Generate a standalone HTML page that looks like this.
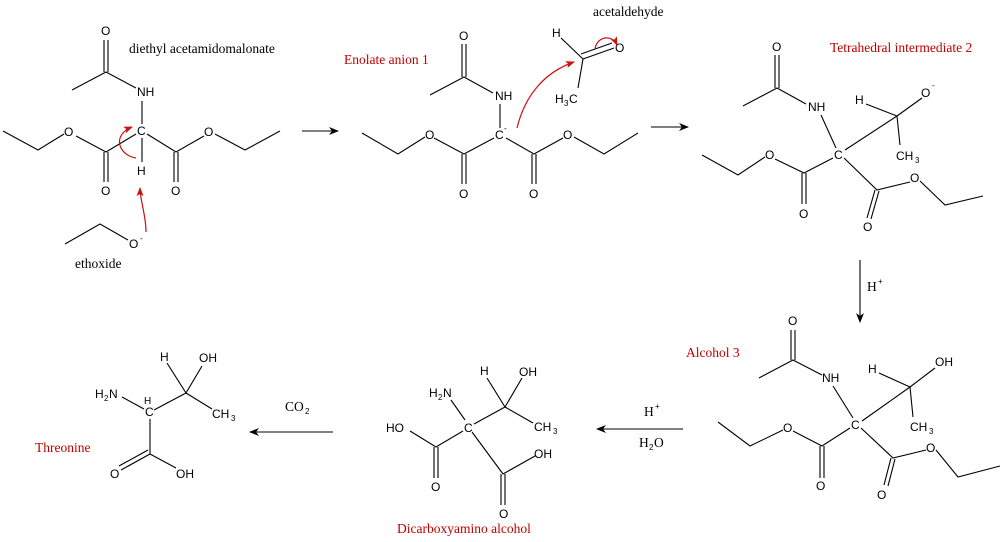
<!DOCTYPE html>
<html><head><style>
html,body{margin:0;padding:0;background:#fff;}
svg{display:block}
.a{font-family:"Liberation Sans",sans-serif;font-size:12px;fill:#000}
.s{font-family:"Liberation Sans",sans-serif;font-size:8px;fill:#000}
.l{font-family:"Liberation Serif",serif;font-size:13.5px;fill:#000}
.r{font-family:"Liberation Serif",serif;font-size:13.5px;fill:#c00000}
line,polyline,path{stroke:#000;stroke-width:1.1;fill:none}
.red{stroke:#d01010;stroke-width:1.2}
</style></head><body>
<svg width="1003" height="542" viewBox="0 0 1003 542" xmlns="http://www.w3.org/2000/svg">
<defs>
<marker id="ah" markerWidth="10" markerHeight="8" refX="9" refY="4" orient="auto" markerUnits="userSpaceOnUse"><path d="M0,0 L10,4 L0,8 L3,4 Z" style="fill:#000;stroke:none"/></marker>
<marker id="rh" markerWidth="9" markerHeight="7" refX="8" refY="3.5" orient="auto" markerUnits="userSpaceOnUse"><path d="M0,0 L9,3.5 L0,7 L2,3.5 Z" style="fill:#d01010;stroke:none"/></marker>
</defs>

<!-- Molecule 1 -->
<text class="a" x="101" y="35">O</text>
<line x1="104" y1="40" x2="104" y2="72"/><line x1="108" y1="40" x2="108" y2="72"/>
<polyline points="72,90 106,72 136,88"/>
<text class="a" x="137" y="96">NH</text>
<line x1="142" y1="101" x2="142" y2="124"/>
<text class="a" x="137" y="135">C</text>
<line x1="142" y1="138" x2="142" y2="162"/>
<text class="a" x="137" y="175">H</text>
<polyline points="136,134 106,152 76,136"/>
<text class="a" x="64" y="136">O</text>
<polyline points="64,134 38,150 3,131"/>
<line x1="104" y1="152" x2="104" y2="182"/><line x1="108" y1="152" x2="108" y2="182"/>
<text class="a" x="101" y="195">O</text>
<polyline points="147,134 176,152 204,136"/>
<text class="a" x="204" y="136">O</text>
<polyline points="215,134 245,150 280,131"/>
<line x1="174" y1="152" x2="174" y2="182"/><line x1="178" y1="152" x2="178" y2="182"/>
<text class="a" x="171" y="195">O</text>
<text class="l" x="129" y="53">diethyl acetamidomalonate</text>
<polyline points="65,244 100,224 128,240"/>
<text class="a" x="129" y="248">O</text><text class="s" x="140" y="241">-</text>
<text class="l" x="75" y="268">ethoxide</text>
<path class="red" d="M136,158 C118,155 112,135 132,127" marker-end="url(#rh)"/>
<path class="red" d="M146,232 C146,215 140,200 140,188" marker-end="url(#rh)"/>

<line x1="302" y1="131" x2="338" y2="131" marker-end="url(#ah)"/>

<!-- Molecule 2 -->
<text class="r" x="344" y="64">Enolate anion 1</text>
<text class="a" x="459" y="40">O</text>
<line x1="462" y1="44" x2="462" y2="77"/><line x1="466" y1="44" x2="466" y2="77"/>
<polyline points="430,95 464,77 493,93"/>
<text class="a" x="495" y="100">NH</text>
<line x1="500" y1="104" x2="500" y2="128"/>
<text class="a" x="495" y="139">C</text><text class="s" x="504" y="131">-</text>
<polyline points="494,138 464,154 434,138"/>
<text class="a" x="425" y="139">O</text>
<polyline points="425,137 398,154 362,133"/>
<line x1="462" y1="154" x2="462" y2="184"/><line x1="466" y1="154" x2="466" y2="184"/>
<text class="a" x="459" y="198">O</text>
<polyline points="506,138 534,154 563,138"/>
<text class="a" x="563" y="139">O</text>
<polyline points="574,137 604,154 638,133"/>
<line x1="532" y1="154" x2="532" y2="184"/><line x1="536" y1="154" x2="536" y2="184"/>
<text class="a" x="529" y="198">O</text>
<text class="l" x="593" y="16">acetaldehyde</text>
<text class="a" x="552" y="37">H</text>
<line x1="561" y1="38" x2="583" y2="59"/>
<line x1="583" y1="59" x2="614" y2="48"/><line x1="581" y1="54" x2="612" y2="43"/>
<text class="a" x="615" y="52">O</text>
<line x1="583" y1="59" x2="578" y2="88"/>
<text class="a" x="555" y="103">H</text><text class="s" x="564" y="106">3</text><text class="a" x="569" y="103">C</text>
<path class="red" d="M517,128 C525,95 545,72 574,62" marker-end="url(#rh)"/>
<path class="red" d="M595,49 C597,36 612,34 617,45" marker-end="url(#rh)"/>

<line x1="651" y1="127" x2="688" y2="127" marker-end="url(#ah)"/>

<!-- Molecule 3 -->
<text class="r" x="830" y="52">Tetrahedral intermediate 2</text>
<text class="a" x="772" y="51">O</text>
<line x1="775" y1="55" x2="775" y2="88"/><line x1="779" y1="55" x2="779" y2="88"/>
<polyline points="743,106 777,88 806,104"/>
<text class="a" x="808" y="111">NH</text>
<line x1="821" y1="115" x2="836" y2="148"/>
<text class="a" x="834" y="159">C</text>
<polyline points="833,158 804,173 775,159"/>
<text class="a" x="765" y="159">O</text>
<polyline points="765,157 738,175 702,155"/>
<line x1="802" y1="173" x2="802" y2="204"/><line x1="806" y1="173" x2="806" y2="204"/>
<text class="a" x="799" y="218">O</text>
<polyline points="844,158 877,190 910,182"/>
<line x1="875" y1="190" x2="867" y2="218"/><line x1="879" y1="191" x2="871" y2="219"/>
<text class="a" x="863" y="231">O</text>
<text class="a" x="910" y="182">O</text>
<polyline points="920,181 945,205 983,196"/>
<line x1="845" y1="150" x2="897" y2="116"/>
<line x1="897" y1="116" x2="922" y2="98"/>
<text class="a" x="921" y="97">O</text><text class="s" x="932" y="88">-</text>
<text class="a" x="855" y="104">H</text>
<line x1="866" y1="104" x2="897" y2="116"/>
<line x1="897" y1="116" x2="900" y2="145"/>
<text class="a" x="896" y="160">CH</text><text class="s" x="915" y="163">3</text>

<line x1="860" y1="260" x2="860" y2="322" marker-end="url(#ah)"/>
<text class="l" x="867" y="291">H</text><text class="s" x="878" y="284">+</text>

<!-- Molecule 4 -->
<text class="r" x="686" y="357">Alcohol 3</text>
<text class="a" x="788" y="325">O</text>
<line x1="791" y1="330" x2="791" y2="360"/><line x1="795" y1="330" x2="795" y2="360"/>
<polyline points="759,378 793,360 822,375"/>
<text class="a" x="822" y="382">NH</text>
<line x1="833" y1="386" x2="853" y2="418"/>
<text class="a" x="851" y="429">C</text>
<polyline points="850,428 822,446 793,431"/>
<text class="a" x="783" y="432">O</text>
<polyline points="783,430 750,446 718,422"/>
<line x1="820" y1="446" x2="820" y2="478"/><line x1="824" y1="446" x2="824" y2="478"/>
<text class="a" x="816" y="490">O</text>
<polyline points="861,428 893,458 926,450"/>
<line x1="891" y1="458" x2="884" y2="485"/><line x1="895" y1="459" x2="888" y2="486"/>
<text class="a" x="877" y="499">O</text>
<text class="a" x="926" y="452">O</text>
<polyline points="936,450 958,477 1000,466"/>
<line x1="862" y1="421" x2="910" y2="387"/>
<line x1="910" y1="387" x2="935" y2="368"/>
<text class="a" x="935" y="366">OH</text>
<text class="a" x="868" y="373">H</text>
<line x1="879" y1="373" x2="910" y2="387"/>
<line x1="910" y1="387" x2="913" y2="417"/>
<text class="a" x="910" y="431">CH</text><text class="s" x="929" y="434">3</text>

<line x1="683" y1="429" x2="597" y2="429" marker-end="url(#ah)"/>
<text class="l" x="644" y="416">H</text><text class="s" x="655" y="409">+</text>
<text class="l" x="639" y="447">H</text><text class="s" x="649" y="450">2</text><text class="l" x="654" y="447">O</text>

<!-- Molecule 5 -->
<text class="a" x="429" y="397">H</text><text class="s" x="438" y="400">2</text><text class="a" x="443" y="397">N</text>
<line x1="451" y1="400" x2="465" y2="420"/>
<text class="a" x="464" y="432">C</text>
<polyline points="463,431 436,447 410,431"/>
<text class="a" x="386" y="432">HO</text>
<line x1="434" y1="447" x2="434" y2="478"/><line x1="438" y1="447" x2="438" y2="478"/>
<text class="a" x="431" y="491">O</text>
<line x1="472" y1="432" x2="503" y2="474"/>
<polyline points="503,474 535,456"/>
<text class="a" x="534" y="458">OH</text>
<line x1="501" y1="474" x2="501" y2="505"/><line x1="505" y1="474" x2="505" y2="505"/>
<text class="a" x="499" y="518">O</text>
<line x1="474" y1="424" x2="505" y2="407"/>
<text class="a" x="480" y="375">H</text>
<line x1="487" y1="378" x2="505" y2="407"/>
<line x1="505" y1="407" x2="522" y2="378"/>
<text class="a" x="519" y="376">OH</text>
<line x1="505" y1="407" x2="533" y2="423"/>
<text class="a" x="534" y="431">CH</text><text class="s" x="553" y="434">3</text>
<text class="r" x="397" y="533">Dicarboxyamino alcohol</text>

<line x1="333" y1="432" x2="250" y2="432" marker-end="url(#ah)"/>
<text class="l" x="285" y="411">CO</text><text class="s" x="305" y="414">2</text>

<!-- Threonine -->
<text class="a" x="95" y="398">H</text><text class="s" x="104" y="401">2</text><text class="a" x="109" y="398">N</text>
<line x1="122" y1="397" x2="144" y2="409"/>
<text class="a" x="144" y="404" style="font-size:10px">H</text>
<text class="a" x="145" y="416">C</text>
<line x1="154" y1="410" x2="186" y2="393"/>
<text class="a" x="160" y="361">H</text>
<line x1="167" y1="363" x2="186" y2="393"/>
<line x1="186" y1="393" x2="202" y2="366"/>
<text class="a" x="199" y="362">OH</text>
<line x1="186" y1="393" x2="212" y2="409"/>
<text class="a" x="212" y="418">CH</text><text class="s" x="231" y="421">3</text>
<line x1="150" y1="419" x2="150" y2="454"/>
<line x1="150" y1="454" x2="121" y2="470"/><line x1="148" y1="450" x2="119" y2="466"/>
<text class="a" x="110" y="478">O</text>
<line x1="150" y1="454" x2="176" y2="468"/>
<text class="a" x="176" y="478">OH</text>
<text class="r" x="35" y="452">Threonine</text>
</svg>
</body></html>
